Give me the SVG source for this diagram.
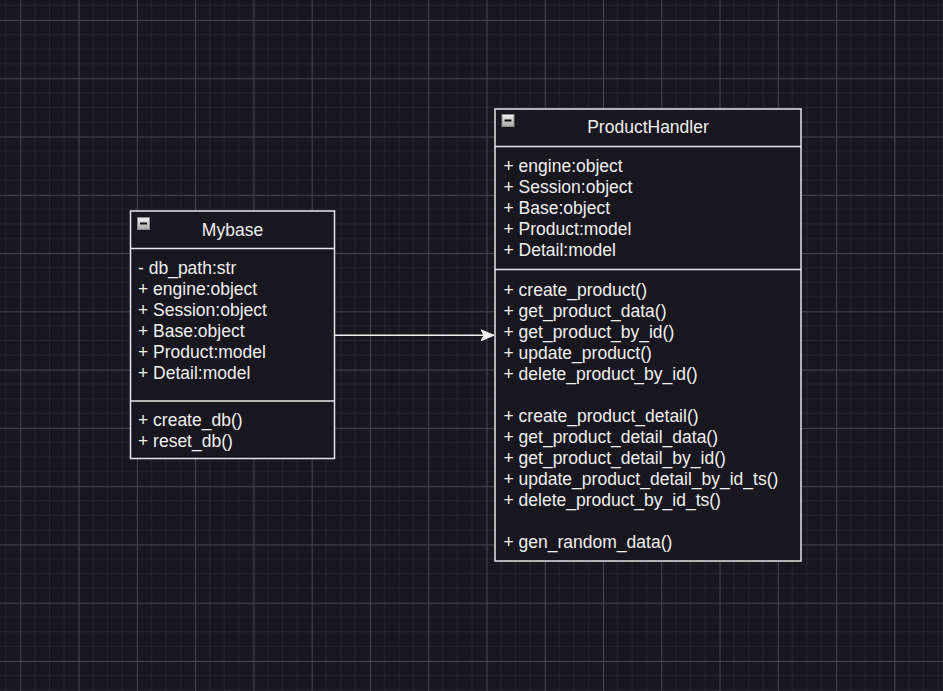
<svg xmlns="http://www.w3.org/2000/svg" width="943" height="691" viewBox="0 0 943 691">
  <defs>
    <style>
      .box { fill: #18161e; stroke: #e6e6e6; stroke-width: 1.5; }
      .sep { stroke: #e6e6e6; stroke-width: 1.5; fill: none; }
      .t { font-family: "Liberation Sans", Arial, sans-serif; font-size: 17.5px; fill: #f0f0f0; }
      .title { text-anchor: middle; }
      .edge { stroke: #f0f0f0; stroke-width: 1.5; fill: none; }
    </style>
    <pattern id="grid" x="20.3" y="20" width="58.27" height="58.27" patternUnits="userSpaceOnUse">
      <path d="M14.57 0V58.27M29.13 0V58.27M43.7 0V58.27M0 14.57H58.27M0 29.13H58.27M0 43.7H58.27" stroke="#27252c" stroke-width="1" fill="none"/>
      <path d="M0.5 0V58.27M0 0.5H58.27" stroke="#48464d" stroke-width="1" fill="none"/>
    </pattern>
    <linearGradient id="ig" x1="0" y1="0" x2="0" y2="1">
      <stop offset="0" stop-color="#f2f2f2"/>
      <stop offset="1" stop-color="#a8a8a8"/>
    </linearGradient>
    <g id="collapse">
      <rect x="0" y="0" width="12" height="12" fill="url(#ig)" stroke="#8a8a8a" stroke-width="1"/>
      <path d="M2.5 6H9.5" stroke="#111" stroke-width="2"/>
    </g>
    <marker id="arrow" viewBox="0 0 14 12" refX="13" refY="6" markerWidth="14" markerHeight="12" markerUnits="userSpaceOnUse" orient="auto">
      <path d="M0 0.5L13 6L0 11.5L3 6Z" fill="#f0f0f0" stroke="#f0f0f0" stroke-width="1"/>
    </marker>
  </defs>

  <rect x="0" y="0" width="943" height="691" fill="#18161e"/>
  <rect x="0" y="0" width="943" height="691" fill="url(#grid)"/>

  <g id="connectors">
    <path class="edge" d="M334.5 335.3H494" marker-end="url(#arrow)"/>
  </g>

  <g id="mybase">
    <rect class="box" x="130.5" y="211" width="204" height="247.5"/>
    <path class="sep" d="M130.5 248.5H334.5M130.5 401H334.5"/>
    <use href="#collapse" x="137.5" y="217.5"/>
    <text class="t title" x="232.5" y="236">Mybase</text>
    <text class="t" x="138" y="274.3">- db_path:str</text>
    <text class="t" x="138" y="295.3">+ engine:object</text>
    <text class="t" x="138" y="316.3">+ Session:object</text>
    <text class="t" x="138" y="337.3">+ Base:object</text>
    <text class="t" x="138" y="358.3">+ Product:model</text>
    <text class="t" x="138" y="379.3">+ Detail:model</text>
    <text class="t" x="138" y="426">+ create_db()</text>
    <text class="t" x="138" y="447">+ reset_db()</text>
  </g>

  <g id="producthandler">
    <rect class="box" x="495" y="109" width="306" height="452"/>
    <path class="sep" d="M495 146.5H801M495 269.5H801"/>
    <use href="#collapse" x="502" y="114.5"/>
    <text class="t title" x="648" y="132.7">ProductHandler</text>
    <text class="t" x="503.5" y="172">+ engine:object</text>
    <text class="t" x="503.5" y="193">+ Session:object</text>
    <text class="t" x="503.5" y="214">+ Base:object</text>
    <text class="t" x="503.5" y="235">+ Product:model</text>
    <text class="t" x="503.5" y="256">+ Detail:model</text>
    <text class="t" x="503.5" y="295.5">+ create_product()</text>
    <text class="t" x="503.5" y="316.5">+ get_product_data()</text>
    <text class="t" x="503.5" y="337.5">+ get_product_by_id()</text>
    <text class="t" x="503.5" y="358.5">+ update_product()</text>
    <text class="t" x="503.5" y="379.5">+ delete_product_by_id()</text>
    <text class="t" x="503.5" y="421.5">+ create_product_detail()</text>
    <text class="t" x="503.5" y="442.5">+ get_product_detail_data()</text>
    <text class="t" x="503.5" y="463.5">+ get_product_detail_by_id()</text>
    <text class="t" x="503.5" y="484.5">+ update_product_detail_by_id_ts()</text>
    <text class="t" x="503.5" y="505.5">+ delete_product_by_id_ts()</text>
    <text class="t" x="503.5" y="547.5">+ gen_random_data()</text>
  </g>
</svg>
